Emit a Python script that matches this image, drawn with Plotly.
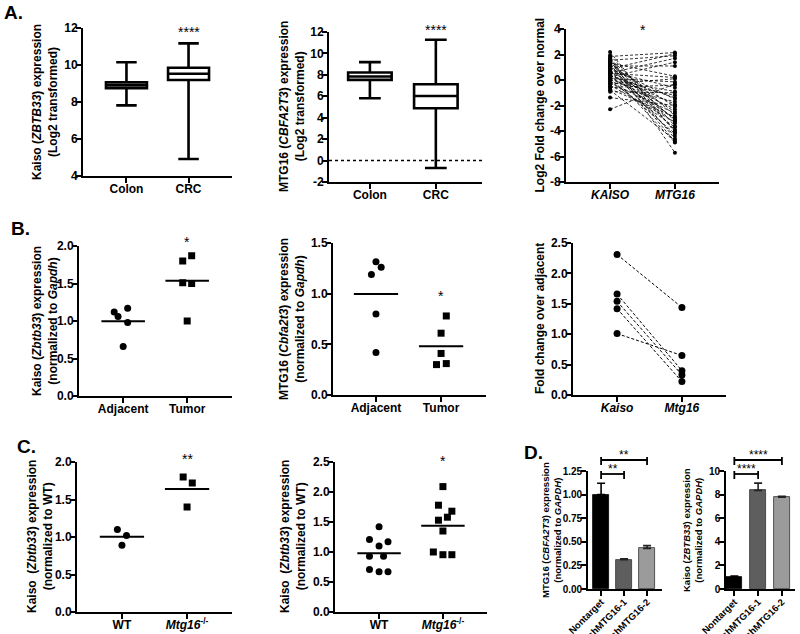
import numpy as np
import plotly.graph_objects as go

W, H = 800, 634
FONT = "Liberation Sans, Arial, sans-serif"

# ---------------- data ----------------
# A: box plots (lower whisker, q1, median, q3, upper whisker)
a_groups = ["Colon", "CRC"]
a1_low = [7.82, 4.92]
a1_q1 = [8.74, 9.19]
a1_med = [8.90, 9.53]
a1_q3 = [9.06, 9.85]
a1_high = [10.15, 11.17]

a2_low = [5.81, -0.69]
a2_q1 = [7.53, 4.88]
a2_med = [7.84, 6.03]
a2_q3 = [8.22, 7.13]
a2_high = [9.19, 11.28]

# A3: paired log2 fold change, KAISO -> MTG16
a3_groups = ["<i>KAISO</i>", "<i>MTG16</i>"]
a3_kaiso = [2.2, 1.95, 1.85, 1.7, 1.62, 1.55, 1.48, 1.4, 1.33, 1.25, 1.18, 1.1,
            1.02, 0.95, 0.88, 0.8, 0.74, 0.66, 0.6, 0.52, 0.45, 0.38, 0.3, 0.24,
            0.15, 0.08, 0.0, -0.08, -0.15, -0.24, -0.32, -0.4, -0.5, -0.58, -0.7,
            -0.8, -0.92, -1.38, -2.3, 0.55, 1.05, 0.35, 1.6, 0.12]
a3_mtg16 = [-4.1, -3.6, 2.15, -5.7, -2.8, 1.9, -4.6, -3.2, 0.3, -4.85, -2.1, 1.1,
            -3.9, -1.5, 2.05, -4.4, -2.5, -0.6, -3.4, 0.2, -4.9, -1.9, -3.0, 1.4,
            -2.3, -4.2, -0.9, -3.7, -1.2, -2.6, 0.1, -3.3, -1.7, -0.4, -2.9, -4.7,
            -1.0, -2.0, -0.3, 1.7, -3.1, -1.4, -4.0, -0.15]

# B: mouse tumors
b_groups = ["Adjacent", "Tumor"]
b1_adj = [1.12, 1.06, 1.17, 0.98, 0.66]
b1_adj_dx = [-0.14, -0.08, 0.07, 0.07, 0.0]
b1_tum = [1.80, 1.87, 1.51, 1.50, 1.00]
b1_tum_dx = [-0.07, 0.07, -0.07, 0.07, 0.0]
b2_adj = [1.19, 1.315, 1.26, 0.80, 0.42]
b2_adj_dx = [-0.07, 0.0, 0.08, 0.0, 0.0]
b2_tum = [0.78, 0.61, 0.41, 0.30, 0.31]
b2_tum_dx = [0.08, 0.0, 0.0, -0.07, 0.08]
b3_groups = ["<i>Kaiso</i>", "<i>Mtg16</i>"]
b3_kaiso = [2.31, 1.66, 1.54, 1.42, 1.01]
b3_mtg16 = [1.44, 0.40, 0.33, 0.22, 0.65]

# C: WT vs Mtg16-/-
c_groups = ["WT", "<i>Mtg16</i><sup>-/-</sup>"]
c1_wt = [1.10, 1.02, 0.89]
c1_wt_dx = [-0.07, 0.07, 0.0]
c1_ko = [1.80, 1.72, 1.40]
c1_ko_dx = [-0.06, 0.08, 0.0]
c2_wt = [1.42, 1.21, 1.10, 1.17, 0.93, 0.93, 0.71, 0.67, 0.67]
c2_wt_dx = [0.0, -0.15, 0.0, 0.14, -0.15, 0.07, -0.15, 0.0, 0.14]
c2_ko = [2.09, 1.78, 1.68, 1.58, 1.53, 1.35, 1.00, 0.955, 0.955]
c2_ko_dx = [0.0, -0.07, 0.14, 0.07, -0.07, 0.0, -0.15, 0.0, 0.14]

# D: knockdown bars (mean, upper error)
d_groups = ["Nontarget", "shMTG16-1", "shMTG16-2"]
d1_mean = [1.0, 0.31, 0.43]
d1_err = [0.12, 0.01, 0.03]
d2_mean = [1.0, 8.35, 7.78]
d2_err = [0.10, 0.62, 0.08]
d_colors = ["#000000", "#5e5e5e", "#9b9b9b"]

# ---------------- layout helpers ----------------
fig = go.Figure()
layout = dict(width=W, height=H, margin=dict(l=0, r=0, t=0, b=0, autoexpand=False),
              showlegend=False, plot_bgcolor="white", paper_bgcolor="white",
              font=dict(family=FONT, color="black"))
annotations = []
shapes = []


def px_x(p):
    return p / W


def px_y(p):
    return 1 - p / H


def add_axes(n, xpx, ypx, xrange, yrange, ytv, yfmt, xtv, xtt, fs=12, xfs=12,
             xangle=0, lw=2, pull=-4):
    s = "" if n == 1 else str(n)
    common = dict(showline=True, linewidth=lw, linecolor="black", ticks="outside",
                  ticklen=5, tickwidth=lw, tickcolor="black", showgrid=False,
                  zeroline=False, fixedrange=True, automargin=False,
                  ticklabelstandoff=pull)
    layout["xaxis" + s] = dict(domain=[px_x(xpx[0]), px_x(xpx[1])], range=xrange,
                               anchor="y" + s, tickvals=xtv, ticktext=xtt,
                               tickangle=xangle,
                               tickfont=dict(size=xfs, weight="bold"), **common)
    layout["yaxis" + s] = dict(domain=[px_y(ypx[1]), px_y(ypx[0])], range=yrange,
                               anchor="x" + s, tickvals=ytv,
                               ticktext=[yfmt.format(v) for v in ytv],
                               tickfont=dict(size=fs, weight="bold"), **common)
    return "x" + s, "y" + s


def ytitle(text, xc, ypx, fs=12):
    annotations.append(dict(text=text, x=px_x(xc), y=px_y((ypx[0] + ypx[1]) / 2),
                            xref="paper", yref="paper", textangle=-90, showarrow=False,
                            xanchor="center", yanchor="middle",
                            font=dict(size=fs, weight="bold")))


def stars(text, xv, xref, ypx, fs=14):
    annotations.append(dict(text=text, x=xv, y=px_y(ypx), xref=xref, yref="paper",
                            showarrow=False, xanchor="center", yanchor="middle",
                            font=dict(size=fs)))


def letter(text, xpx, ypx):
    annotations.append(dict(text=text, x=px_x(xpx), y=px_y(ypx), xref="paper",
                            yref="paper", showarrow=False, xanchor="left",
                            yanchor="middle", font=dict(size=19, weight="bold")))


def dots(xa, ya, center, vals, dx, symbol, size=7):
    fig.add_trace(go.Scatter(x=[center + d for d in dx], y=vals, mode="markers",
                             marker=dict(symbol=symbol, size=size, color="black"),
                             cliponaxis=False, xaxis=xa, yaxis=ya))
    m = float(np.mean(vals))
    fig.add_trace(go.Scatter(x=[center - 0.34, center + 0.34], y=[m, m], mode="lines",
                             line=dict(color="black", width=2), xaxis=xa, yaxis=ya))


def paired(xa, ya, left, right, msize, lw):
    xs, ys = [], []
    for l, r in zip(left, right):
        xs += [0, 1, None]
        ys += [l, r, None]
    fig.add_trace(go.Scatter(x=xs, y=ys, mode="lines+markers",
                             line=dict(color="black", width=lw, dash="3px,2px"),
                             marker=dict(size=msize, color="black"), cliponaxis=False,
                             xaxis=xa, yaxis=ya))


def boxes(xa, ya, low, q1, med, q3, high):
    fig.add_trace(go.Box(x=[0, 1], q1=q1, median=med, q3=q3, lowerfence=low,
                         upperfence=high, width=0.66, whiskerwidth=0.5,
                         line=dict(color="black", width=2.6), fillcolor="white",
                         boxpoints=False, xaxis=xa, yaxis=ya))


def bars(xa, ya, means, errs):
    for i, (m, e) in enumerate(zip(means, errs)):
        c = d_colors[i]
        fig.add_trace(go.Bar(x=[i], y=[m], width=0.68, marker=dict(color=c,
                             line=dict(color="#333333" if i else "black", width=0.8)),
                             error_y=dict(type="data", symmetric=False, array=[e],
                                          arrayminus=[0], color="#222222" if i else "black",
                                          thickness=1.6, width=4),
                             xaxis=xa, yaxis=ya))


def bracket(xref, x0, x1, ypx):
    y = px_y(ypx)
    shapes.append(dict(type="line", xref=xref, yref="paper", x0=x0, x1=x1, y0=y, y1=y,
                       line=dict(color="black", width=1.8)))
    for xv in (x0, x1):
        shapes.append(dict(type="line", xref=xref, yref="paper", x0=xv, x1=xv,
                           y0=px_y(ypx - 3), y1=px_y(ypx + 5),
                           line=dict(color="black", width=1.8)))


cat = [0, 1]

# ---------------- panel A ----------------
letter("A.", 2, 13)
xa, ya = add_axes(1, (83, 232), (28, 176), [-0.7, 1.7], [4, 12], [4, 6, 8, 10, 12], "{:d}",
                  cat, a_groups)
boxes(xa, ya, a1_low, a1_q1, a1_med, a1_q3, a1_high)
ytitle("Kaiso (<i>ZBTB33</i>) expression<br>(Log2 transformed)", 45, (28, 176))
stars("****", 1, xa, 32)

xa, ya = add_axes(2, (329, 482), (32, 182), [-0.62, 1.7], [-2, 12],
                  [-2, 0, 2, 4, 6, 8, 10, 12], "{:d}", cat, a_groups)
shapes.append(dict(type="line", xref="x2 domain", yref="y2", x0=0, x1=1, y0=0, y1=0,
                   line=dict(color="black", width=1.5, dash="dot")))
boxes(xa, ya, a2_low, a2_q1, a2_med, a2_q3, a2_high)
ytitle("MTG16 (<i>CBFA2T3</i>) expression<br>(Log2 transformed)", 292, (32, 182))
stars("****", 1, xa, 30)

xa, ya = add_axes(3, (566, 719), (29, 182), [-0.68, 1.68], [-8, 4],
                  [-8, -6, -4, -2, 0, 2, 4], "{:d}", cat, a3_groups)
paired(xa, ya, a3_kaiso, a3_mtg16, 4, 0.8)
ytitle("Log2 Fold change over normal", 540, (29, 182))
stars("*", 0.5, xa, 30)

# ---------------- panel B ----------------
letter("B.", 9, 228)
xa, ya = add_axes(4, (79, 232), (246, 396), [-0.69, 1.7], [0, 2], [0, 0.5, 1, 1.5, 2],
                  "{:.1f}", cat, b_groups)
dots(xa, ya, 0, b1_adj, b1_adj_dx, "circle")
dots(xa, ya, 1, b1_tum, b1_tum_dx, "square")
ytitle("Kaiso (<i>Zbtb33</i>) expression<br>(normalized to <i>Gapdh</i>)", 45, (246, 396))
stars("*", 1, xa, 242)

xa, ya = add_axes(5, (333, 486), (243, 395), [-0.66, 1.69], [0, 1.5], [0, 0.5, 1, 1.5],
                  "{:.1f}", cat, b_groups)
dots(xa, ya, 0, b2_adj, b2_adj_dx, "circle")
dots(xa, ya, 1, b2_tum, b2_tum_dx, "square")
ytitle("MTG16 (<i>Cbfa2t3</i>) expression<br>(normalized to <i>Gapdh</i>)", 292, (243, 395))
stars("*", 1, xa, 296)

xa, ya = add_axes(6, (573, 726), (243, 395), [-0.68, 1.68], [0, 2.5],
                  [0, 0.5, 1, 1.5, 2, 2.5], "{:.1f}", cat, b3_groups)
paired(xa, ya, b3_kaiso, b3_mtg16, 7, 1)
ytitle("Fold change over adjacent", 540, (243, 395))

# ---------------- panel C ----------------
letter("C.", 15, 446)
xa, ya = add_axes(7, (77, 232), (462, 612), [-0.69, 1.69], [0, 2], [0, 0.5, 1, 1.5, 2],
                  "{:.1f}", cat, c_groups)
dots(xa, ya, 0, c1_wt, c1_wt_dx, "circle")
dots(xa, ya, 1, c1_ko, c1_ko_dx, "square")
ytitle("Kaiso  (<i>Zbtb33</i>) expression<br>(normalized to WT)", 40, (462, 612))
stars("**", 1, xa, 459)

xa, ya = add_axes(8, (335, 487), (462, 612), [-0.69, 1.69], [0, 2.5],
                  [0, 0.5, 1, 1.5, 2, 2.5], "{:.1f}", cat, c_groups)
dots(xa, ya, 0, c2_wt, c2_wt_dx, "circle")
dots(xa, ya, 1, c2_ko, c2_ko_dx, "square")
ytitle("Kaiso  (<i>Zbtb33</i>) expression<br>(normalized to WT)", 293, (462, 612))
stars("*", 1, xa, 461)

# ---------------- panel D ----------------
letter("D.", 522, 452)
dcat = [0, 1, 2]
xa, ya = add_axes(9, (588, 662), (471, 589), [-0.57, 2.65], [0, 1.25],
                  [0, 0.25, 0.5, 0.75, 1.0, 1.25], "{:.2f}", dcat, d_groups,
                  fs=10, xfs=9.5, xangle=-45, lw=1.6, pull=-3)
bars(xa, ya, d1_mean, d1_err)
ytitle("MTG16 (<i>CBFA2T3</i>) expression<br>(normalized to <i>GAPDH</i>)", 551,
       (471, 589), fs=9.5)
bracket(xa, 0, 2, 460)
bracket(xa, 0, 1, 474)
stars("**", 1, xa, 455, fs=12)
stars("**", 0.5, xa, 469, fs=12)

xa, ya = add_axes(10, (726, 795), (471, 589), [-0.35, 2.55], [0, 10],
                  [0, 2, 4, 6, 8, 10], "{:d}", dcat, d_groups, fs=10, xfs=9.5,
                  xangle=-45, lw=1.6, pull=-3)
bars(xa, ya, d2_mean, d2_err)
ytitle("Kaiso (<i>ZBTB33</i>) expression<br>(normalized to <i>GAPDH</i>)", 692,
       (471, 589), fs=9.5)
bracket(xa, 0, 2, 460)
bracket(xa, 0, 1, 474)
stars("****", 1, xa, 455, fs=12)
stars("****", 0.5, xa, 469, fs=12)

layout["annotations"] = annotations
layout["shapes"] = shapes
layout["bargap"] = 0
fig.update_layout(**layout)
# the page body has a default margin; drop it so the figure sits at the window origin
fig.write_html("out.html", config={"displayModeBar": False},
               post_script="document.body.style.margin='0px';")
